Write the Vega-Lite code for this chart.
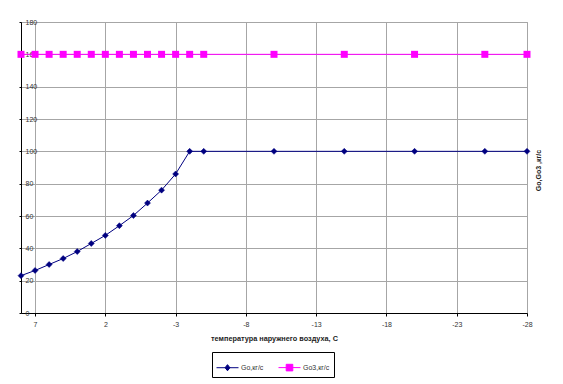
{
  "$schema": "https://vega.github.io/schema/vega-lite/v6.json",
  "width": 506,
  "height": 291,
  "autosize": {"type": "none"},
  "padding": {"left": 21, "top": 22, "right": 36, "bottom": 71},
  "background": "white",
  "config": {
    "font": "Liberation Sans",
    "view": {"stroke": "#a0a0a0", "strokeWidth": 1},
    "axis": {"labelFont": "Liberation Sans", "titleFont": "Liberation Sans"}
  },
  "data": {
    "values": [
      {"t": 8, "v": 23.1, "s": "Go,кг/с"},
      {"t": 7, "v": 26.3, "s": "Go,кг/с"},
      {"t": 6, "v": 30, "s": "Go,кг/с"},
      {"t": 5, "v": 33.7, "s": "Go,кг/с"},
      {"t": 4, "v": 38, "s": "Go,кг/с"},
      {"t": 3, "v": 43, "s": "Go,кг/с"},
      {"t": 2, "v": 48, "s": "Go,кг/с"},
      {"t": 1, "v": 54, "s": "Go,кг/с"},
      {"t": 0, "v": 60.3, "s": "Go,кг/с"},
      {"t": -1, "v": 68, "s": "Go,кг/с"},
      {"t": -2, "v": 76, "s": "Go,кг/с"},
      {"t": -3, "v": 86, "s": "Go,кг/с"},
      {"t": -4, "v": 100, "s": "Go,кг/с"},
      {"t": -5, "v": 100, "s": "Go,кг/с"},
      {"t": -10, "v": 100, "s": "Go,кг/с"},
      {"t": -15, "v": 100, "s": "Go,кг/с"},
      {"t": -20, "v": 100, "s": "Go,кг/с"},
      {"t": -25, "v": 100, "s": "Go,кг/с"},
      {"t": -28, "v": 100, "s": "Go,кг/с"},
      {"t": 8, "v": 160, "s": "Go3,кг/с"},
      {"t": 7, "v": 160, "s": "Go3,кг/с"},
      {"t": 6, "v": 160, "s": "Go3,кг/с"},
      {"t": 5, "v": 160, "s": "Go3,кг/с"},
      {"t": 4, "v": 160, "s": "Go3,кг/с"},
      {"t": 3, "v": 160, "s": "Go3,кг/с"},
      {"t": 2, "v": 160, "s": "Go3,кг/с"},
      {"t": 1, "v": 160, "s": "Go3,кг/с"},
      {"t": 0, "v": 160, "s": "Go3,кг/с"},
      {"t": -1, "v": 160, "s": "Go3,кг/с"},
      {"t": -2, "v": 160, "s": "Go3,кг/с"},
      {"t": -3, "v": 160, "s": "Go3,кг/с"},
      {"t": -4, "v": 160, "s": "Go3,кг/с"},
      {"t": -5, "v": 160, "s": "Go3,кг/с"},
      {"t": -10, "v": 160, "s": "Go3,кг/с"},
      {"t": -15, "v": 160, "s": "Go3,кг/с"},
      {"t": -20, "v": 160, "s": "Go3,кг/с"},
      {"t": -25, "v": 160, "s": "Go3,кг/с"},
      {"t": -28, "v": 160, "s": "Go3,кг/с"}
    ]
  },
  "encoding": {
    "x": {
      "field": "t",
      "type": "quantitative",
      "scale": {"domain": [8, -28], "nice": false, "zero": false},
      "axis": {
        "values": [7, 2, -3, -8, -13, -18, -23, -28],
        "labelExpr": "datum.value + ''",
        "title": "температура наружнего воздуха, С",
        "titleFontSize": 7.3,
        "titleFontWeight": "bold",
        "titleColor": "#222222",
        "titlePadding": 7,
        "labelFontSize": 7,
        "labelColor": "#333333",
        "labelPadding": 4,
        "labelFlush": false,
        "labelOverlap": false,
        "domainColor": "#000000",
        "tickColor": "#000000",
        "tickSize": 3,
        "gridColor": "#a6a6a6",
        "gridWidth": 1
      }
    },
    "y": {
      "field": "v",
      "type": "quantitative",
      "scale": {"domain": [0, 180], "nice": false},
      "axis": {
        "values": [0, 20, 40, 60, 80, 100, 120, 140, 160, 180],
        "title": "Go,Go3 ,кг/с",
        "titleX": 517,
        "titleY": 148,
        "titleAngle": 270,
        "titleAlign": "center",
        "titleBaseline": "middle",
        "titleFontSize": 7,
        "titleFontWeight": "bold",
        "titleColor": "#222222",
        "labelFontSize": 7,
        "labelColor": "#333333",
        "labelAlign": "left",
        "labelPadding": -6,
        "labelFlush": false,
        "labelOverlap": false,
        "domainColor": "#000000",
        "tickColor": "#000000",
        "tickSize": 2,
        "gridColor": "#a6a6a6",
        "gridWidth": 1
      }
    }
  },
  "layer": [
    {
      "mark": {"type": "line", "strokeWidth": 1},
      "encoding": {
        "color": {
          "field": "s",
          "type": "nominal",
          "scale": {"domain": ["Go,кг/с", "Go3,кг/с"], "range": ["#000080", "#ff00ff"]},
          "legend": {
            "title": null,
            "orient": "none",
            "direction": "horizontal",
            "legendX": 191,
            "legendY": 330,
            "padding": 4,
            "strokeColor": "#000000",
            "labelFontSize": 7,
            "labelColor": "#333333",
            "labelOffset": 2,
            "columnPadding": 12,
            "symbolSize": 484,
            "symbolStrokeWidth": 1,
            "encode": {
              "symbols": {
                "update": {
                  "shape": {"signal": "datum.value == 'Go3,кг/с' ? 'M-1,0H1M-0.3,-0.3H0.3V0.3H-0.3Z' : 'M-1,0H1M0,-0.28L0.22,0L0,0.28L-0.22,0Z'"},
                  "fill": {"signal": "datum.value == 'Go3,кг/с' ? '#ff00ff' : '#000080'"},
                  "stroke": {"signal": "datum.value == 'Go3,кг/с' ? '#ff00ff' : '#000080'"}
                }
              }
            }
          }
        }
      }
    },
    {
      "transform": [{"filter": "datum.s == 'Go,кг/с'"}],
      "mark": {"type": "point", "shape": "diamond", "filled": true, "size": 36, "color": "#000080", "opacity": 1, "stroke": "#000080", "strokeWidth": 0.5}
    },
    {
      "transform": [{"filter": "datum.s == 'Go3,кг/с'"}],
      "mark": {"type": "point", "shape": "square", "filled": true, "size": 49, "color": "#ff00ff", "opacity": 1}
    }
  ]
}
